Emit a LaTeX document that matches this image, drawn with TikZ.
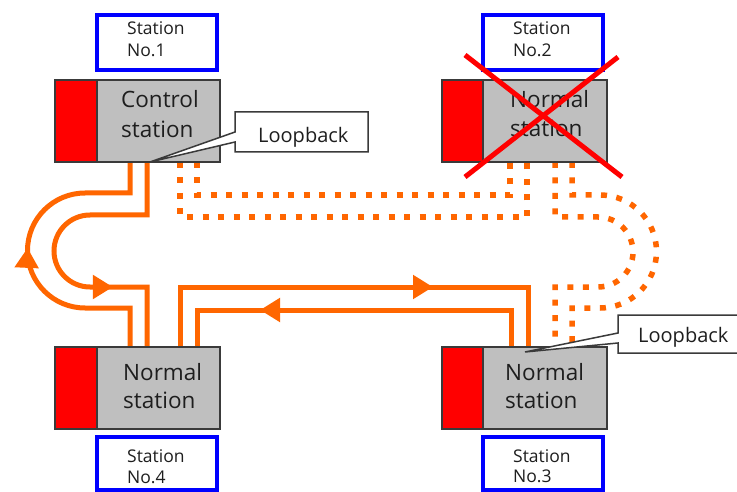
\documentclass[tikz,border=0pt]{standalone}
\usepackage{fontspec}
\setmainfont{Open Sans}
\usetikzlibrary{arrows.meta,decorations.markings}
\definecolor{lineorange}{HTML}{FF6600}
\definecolor{boxgrey}{HTML}{BFBFBF}
\definecolor{edgegrey}{HTML}{3A3A3A}
\definecolor{txt}{HTML}{1E1E1E}
\begin{document}
\begin{tikzpicture}[x=1pt,y=-1pt,
  stbox/.style={draw=edgegrey, line width=1.5pt, fill=boxgrey, minimum width=165pt, minimum height=82pt, inner sep=0pt, outer sep=0pt},
  redpart/.style={draw=edgegrey, line width=1.5pt, fill=red},
  numbox/.style={draw=blue, line width=3.5pt, fill=white, minimum width=120pt, minimum height=55pt, inner sep=0pt, outer sep=0pt},
  bigtxt/.style={anchor=base west, inner sep=0pt, font=\fontsize{22.5}{27}\selectfont, text=txt},
  smalltxt/.style={anchor=base west, inner sep=0pt, font=\fontsize{17.5}{21}\selectfont, text=txt},
  lbtxt/.style={anchor=base west, inner sep=0pt, font=\fontsize{20}{24}\selectfont, text=txt},
  lbbox/.style={minimum width=133pt, minimum height=40pt, inner sep=0pt, outer sep=0pt},
  callout/.style={draw=edgegrey, line width=1.5pt, fill=white, line join=miter},
  ring/.style={draw=lineorange, color=lineorange, line width=5pt},
  broken/.style={draw=lineorange, line width=5.5pt, dash pattern=on 6pt off 9.5pt},
  xline/.style={draw=red, line width=5pt},
  arrowat/.style={postaction={decorate}, decoration={markings, mark=at position #1 with {\arrow{Triangle[length=20pt,width=23pt]}}}}
]
\useasboundingbox (0,0) rectangle (737,492);
\fill[white] (0,0) rectangle (737,492);

% station nodes (placed first so paths can refer to them; redrawn below on top)
\path (137.5,121) node[stbox, draw=none, fill=none] (s1) {}
      (524.5,121) node[stbox, draw=none, fill=none] (s2) {}
      (137.5,388) node[stbox, draw=none, fill=none] (s4) {}
      (524.5,388) node[stbox, draw=none, fill=none] (s3) {};

% broken (dotted) links
\draw[broken] ([xshift=125pt]s1.south west) -- (180,217) -- (527,217) -- ([xshift=85pt]s2.south west);
\draw[broken] ([xshift=142pt]s1.south west) -- (197,195) -- (510,195) -- ([xshift=68pt]s2.south west);
\draw[broken] ([xshift=113pt]s2.south west) -- (555,217) -- (598,217)
   arc[start angle=-90, end angle=90, radius=35] -- (555,287) -- ([xshift=113pt]s3.north west);
\draw[broken] ([xshift=130pt]s2.south west) -- (572,195) -- (600,195)
   arc[start angle=-90, end angle=90, radius=56.5] -- (572,308) -- ([xshift=130pt]s3.north west);

% active ring
\draw[ring, arrowat=246pt] ([xshift=92pt]s1.south west) -- (147,215) -- (90,215)
   arc[start angle=-90, end angle=-270, radius=36] -- (147,287) -- ([xshift=92pt]s4.north west);
\draw[ring, arrowat=177pt] ([xshift=75pt]s4.north west) -- (130,308) -- (85,308)
   arc[start angle=90, end angle=270, radius=57.5] -- (130,193) -- ([xshift=75pt]s1.south west);
\draw[ring, arrowat=313pt] ([xshift=125pt]s4.north west) -- (180,287) -- (528,287) -- ([xshift=86pt]s3.north west);
\draw[ring, arrowat=288pt] ([xshift=69pt]s3.north west) -- (511,310) -- (197,310) -- ([xshift=142pt]s4.north west);

% stations
\node[stbox] (s1b) at (s1) {};
\draw[redpart] (s1b.north west) rectangle ([xshift=42pt]s1b.south west);
\node[stbox] (s2b) at (s2) {};
\draw[redpart] (s2b.north west) rectangle ([xshift=41pt]s2b.south west);
\node[stbox] (s4b) at (s4) {};
\draw[redpart] (s4b.north west) rectangle ([xshift=42pt]s4b.south west);
\node[stbox] (s3b) at (s3) {};
\draw[redpart] (s3b.north west) rectangle ([xshift=41pt]s3b.south west);

\node[bigtxt] (t1a) at (121,108) {Control};
\node[bigtxt] (t1b) at (121,138) {station};
\node[bigtxt] (t2a) at (510,108) {Normal};
\node[bigtxt] (t2b) at (510,137) {station};
\node[bigtxt] (t4a) at (123,380) {Normal};
\node[bigtxt] (t4b) at (123,408) {station};
\node[bigtxt] (t3a) at (505,380) {Normal};
\node[bigtxt] (t3b) at (505,408) {station};

% station number labels
\node[numbox] (n1) at (157,42.5) {};
\node[numbox] (n2) at (543,42.5) {};
\node[numbox, minimum height=53pt] (n4) at (157,463.5) {};
\node[numbox, minimum height=53pt] (n3) at (543,463.5) {};
\node[smalltxt] (n1a) at (127,35) {Station};
\node[smalltxt] (n1b) at (127,57) {No.1};
\node[smalltxt] (n2a) at (513,35) {Station};
\node[smalltxt] (n2b) at (513,57) {No.2};
\node[smalltxt] (n4a) at (127,462) {Station};
\node[smalltxt] (n4b) at (127,483) {No.4};
\node[smalltxt] (n3a) at (513,462) {Station};
\node[smalltxt] (n3b) at (513,482) {No.3};

% failed station cross
\draw[xline] (465,55) -- (622,177);
\draw[xline] (618,57) -- (465,177);

% loopback callouts
\node[lbbox] (lb1) at (301.5,132) {};
\coordinate (tip1) at (150,162);
\draw[callout] (lb1.north west) -- (lb1.north east) -- (lb1.south east) -- (lb1.south west)
   -- ([yshift=-10pt]lb1.west) -- (tip1) -- (lb1.west) -- cycle;
\node[lbtxt] (lb1t) at (258,143) {Loopback};

\node[lbbox, minimum width=122pt, minimum height=38pt] (lb2) at (679,334) {};
\coordinate (tip2) at (525,352);
\draw[callout] (lb2.north west) -- (lb2.north east) -- (lb2.south east) -- (lb2.south west)
   -- ([yshift=-9pt]lb2.west) -- (tip2) -- ([yshift=1pt]lb2.west) -- cycle;
\node[lbtxt] (lb2t) at (638,342) {Loopback};
\end{tikzpicture}
\end{document}
